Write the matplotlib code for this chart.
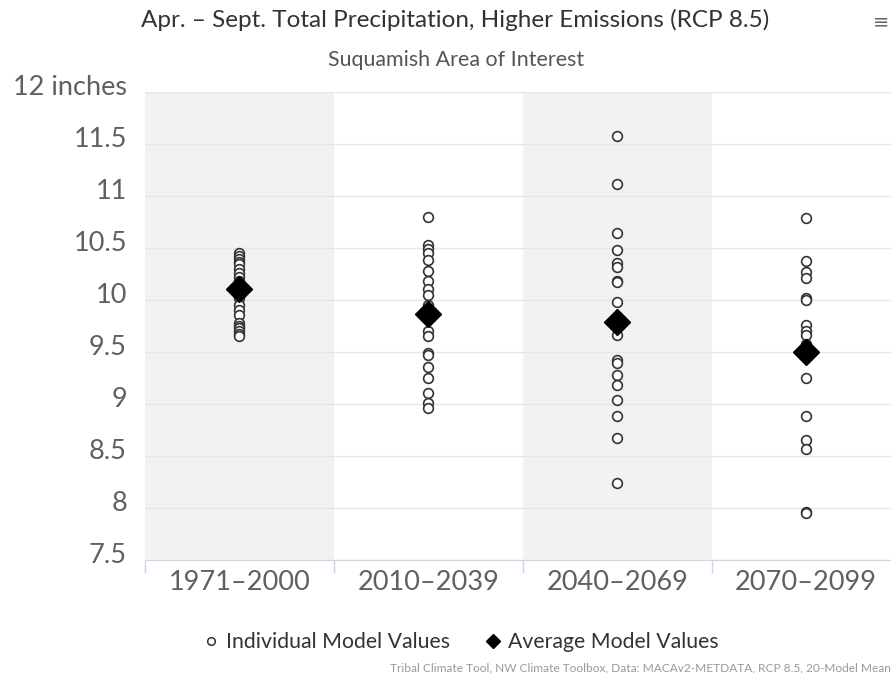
import numpy as np
import matplotlib
matplotlib.use("Agg")
import matplotlib.pyplot as plt
from matplotlib.lines import Line2D
from matplotlib.transforms import ScaledTranslation

# --- DATA ---
periods = ["1971\u20132000", "2010\u20132039", "2040\u20132069", "2070\u20132099"]

model_1971_2000 = [10.45, 10.42, 10.39, 10.36, 10.34, 10.30, 10.26, 10.22, 10.18, 10.10,
                   10.02, 9.95, 9.90, 9.85, 9.78, 9.75, 9.73, 9.70, 9.67, 9.65]
model_2010_2039 = [10.80, 10.53, 10.49, 10.45, 10.38, 10.28, 10.18, 10.10, 10.05, 9.95,
                   9.70, 9.65, 9.49, 9.47, 9.35, 9.25, 9.10, 9.01, 8.96]
model_2040_2069 = [11.57, 11.11, 10.64, 10.48, 10.35, 10.32, 10.18, 10.17, 9.98, 9.66,
                   9.42, 9.39, 9.28, 9.18, 9.04, 8.88, 8.67, 8.24]
model_2070_2099 = [10.79, 10.37, 10.27, 10.21, 10.02, 10.00, 9.76, 9.70, 9.66, 9.58,
                   9.25, 8.88, 8.65, 8.57, 7.96, 7.95]
model_values = [model_1971_2000, model_2010_2039, model_2040_2069, model_2070_2099]

average_values = [10.10, 9.86, 9.79, 9.50]

y_ticks = [7.5, 8, 8.5, 9, 9.5, 10, 10.5, 11, 11.5, 12]
y_tick_labels = ["7.5", "8", "8.5", "9", "9.5", "10", "10.5", "11", "11.5", "12 inches"]

# --- STYLE ---
FONT = "Lato"
plt.rcParams["font.family"] = [FONT, "DejaVu Sans"]
AXIS_COLOR = "#ccd6eb"
GRID_COLOR = "#e6e6e6"
BAND_COLOR = "#f2f2f2"
LABEL_COLOR = "#606060"

fig = plt.figure(figsize=(8.91, 6.79), dpi=100)
ax = fig.add_axes([145 / 891, 119 / 679, 755.6 / 891, 468.3 / 679])

# alternating category bands
for i in range(len(periods)):
    if i % 2 == 0:
        ax.axvspan(i - 0.5, i + 0.5, color=BAND_COLOR, zorder=0, lw=0)

# individual model values
for i, vals in enumerate(model_values):
    ax.plot([i] * len(vals), vals, linestyle="none", marker="o", markersize=7,
            markerfacecolor="white", markeredgecolor="#333333", markeredgewidth=1.2,
            zorder=3)

# averages
ax.plot(range(len(periods)), average_values, linestyle="none", marker="D",
        markersize=13.5, color="black", zorder=4)

ax.set_xlim(-0.5, 3.5)
ax.set_ylim(7.5, 12)

ax.set_yticks(y_ticks)
ax.set_yticklabels(y_tick_labels)
ax.yaxis.grid(True, color=GRID_COLOR, lw=1)
ax.set_axisbelow(True)
ax.tick_params(axis="y", length=0, pad=13, labelsize=19.5, labelcolor=LABEL_COLOR)
for lbl in ax.get_yticklabels():
    lbl.set_transform(lbl.get_transform() + ScaledTranslation(0, 5 / 72, fig.dpi_scale_trans))

ax.set_xticks(range(len(periods)))
ax.set_xticklabels(periods)
ax.set_xticks([-0.5, 0.5, 1.5, 2.5], minor=True)
ax.tick_params(axis="x", which="major", length=0, pad=7, labelsize=19.5, labelcolor=LABEL_COLOR)
ax.tick_params(axis="x", which="minor", length=9, width=1, color=AXIS_COLOR)

for s in ["left", "top", "right"]:
    ax.spines[s].set_visible(False)
ax.spines["bottom"].set_color(AXIS_COLOR)

# titles
fig.text(455 / 891, 1 - 20 / 679, "Apr. \u2013 Sept. Total Precipitation, Higher Emissions (RCP 8.5)",
         ha="center", va="center", fontsize=17.5, color="#333333")
fig.text(456 / 891, 1 - 60 / 679, "Suquamish Area of Interest",
         ha="center", va="center", fontsize=15.4, color="#555555")
fig.text(881 / 891, 1 - 22 / 679, "\u2261", ha="center", va="center",
         fontsize=14, color="#666666", family="DejaVu Sans")

# legend
handles = [
    Line2D([], [], linestyle="none", marker="o", markersize=5.5, markerfacecolor="white",
           markeredgecolor="#333333", markeredgewidth=1.1),
    Line2D([], [], linestyle="none", marker="D", markersize=7, color="black"),
]
fig.legend(handles, ["Individual Model Values", "Average Model Values"],
           loc="center", bbox_to_anchor=(460 / 891, 1 - 642 / 679), ncol=2,
           frameon=False, fontsize=15.3, handletextpad=0.25, columnspacing=1.6,
           handlelength=0.9, labelcolor="#333333")

# credits (runs off the right edge as in the source chart)
fig.text(390 / 891, 1 - 668 / 679,
         "Tribal Climate Tool, NW Climate Toolbox, Data: MACAv2-METDATA, RCP 8.5, 20-Model Mean",
         ha="left", va="center", fontsize=8.6, color="#999999")

fig.savefig("out.png", dpi=100)
